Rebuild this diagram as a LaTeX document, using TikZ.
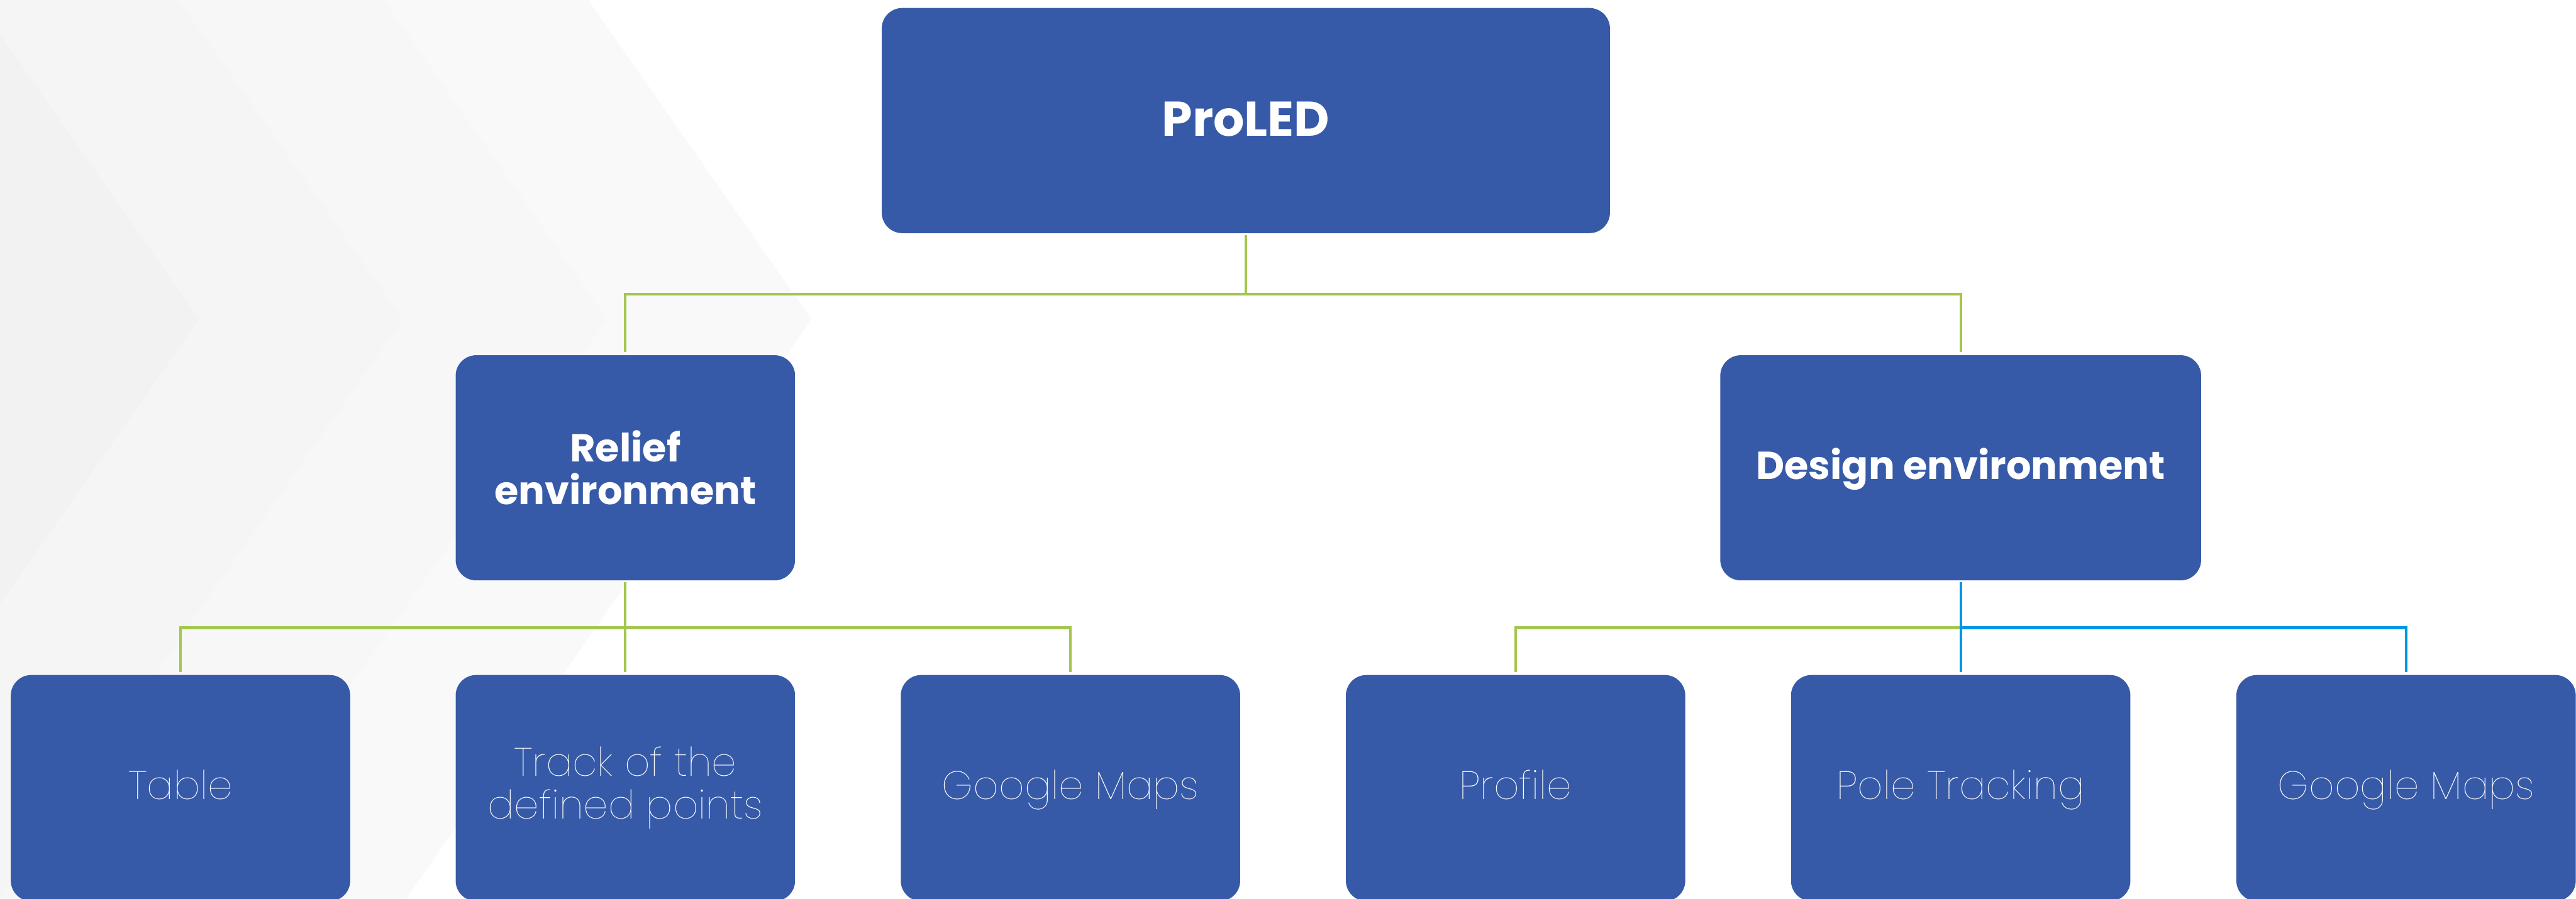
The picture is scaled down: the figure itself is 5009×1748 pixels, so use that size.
\documentclass[tikz,border=0pt]{standalone}
\usepackage{fontspec}
\setmainfont{Poppins}
\newfontfamily\boldfont{Poppins}[UprightFont=*-Bold]
\newfontfamily\thinfont{Poppins}[UprightFont=*-Thin]
\definecolor{boxblue}{HTML}{375AA8}
\definecolor{lgreen}{HTML}{A4C64F}
\definecolor{lblue}{HTML}{0095E6}
\definecolor{bgA}{HTML}{F2F2F2}
\definecolor{bgB}{HTML}{F5F5F5}
\definecolor{bgC}{HTML}{F7F7F7}
\definecolor{bgD}{HTML}{F9F9F9}
\tikzset{
  box/.style={rectangle, rounded corners=8pt, fill=boxblue, draw=none, text=white, align=center, inner sep=0pt},
  topbox/.style={box, minimum width={1416*0.2pt}, minimum height={438*0.2pt}, font=\boldfont\fontsize{19}{22}\selectfont},
  midbox/.style={box, minimum height={438*0.2pt}, font=\boldfont\fontsize{15.2}{16.6}\selectfont},
  leafbox/.style={box, minimum width={660*0.2pt}, minimum height={440*0.2pt}, font=\thinfont\fontsize{15.4}{16.6}\selectfont},
  oneline/.style={text height=8.8pt, text depth=0pt},
  gline/.style={draw=lgreen, line width=1pt},
  bline/.style={draw=lblue, line width=1pt},
}
\begin{document}
\begin{tikzpicture}[x=0.2pt, y=-0.2pt]
\useasboundingbox (0,0) rectangle (5009,1748);
\begin{scope}
\clip (0,0) rectangle (5009,1748);
% background chevrons
\fill[bgD] (0,0) -- (1144,0) -- (1578,621) -- (790,1748) -- (0,1748) -- cycle;
\fill[bgC] (0,0) -- (746,0) -- (1180,621) -- (392,1748) -- (0,1748) -- cycle;
\fill[bgB] (0,0) -- (347,0) -- (783,621) -- (-5,1748) -- (0,1748) -- cycle;
\fill[bgA] (0,67) -- (387,621) -- (0,1175) -- cycle;

% nodes
\node[topbox, text height=12pt, text depth=0pt] (pro) at (2422.5,234.5) {ProLED};
\node[midbox, minimum width={660*0.2pt}] (relief) at (1216,910) {Relief\\environment};
\node[midbox, oneline, minimum width={935*0.2pt}] (design) at (3812.5,910) {Design environment};
\node[leafbox, oneline] (table) at (351,1533) {Table};
\node[leafbox] (track) at (1216,1533) {Track of the\\defined points};
\node[leafbox, oneline] (gm1) at (2081.5,1533) {Google Maps};
\node[leafbox, oneline] (profile) at (2947,1533) {Profile};
\node[leafbox, oneline] (pole) at (3812.5,1533) {Pole Tracking};
\node[leafbox, oneline] (gm2) at (4678.5,1533) {Google Maps};

\coordinate (busA) at (0,572);
\coordinate (busB) at (0,1221);

% connectors level 1
\draw[gline, shorten <=0.5pt, shorten >=1pt] (pro.south) -- (pro.south |- busA) -| (relief.north);
\draw[gline, shorten >=1pt] (pro.south |- busA) -| (design.north);
% relief children
\draw[gline, shorten <=0.5pt, shorten >=1pt] (relief.south) -- (track.north);
\draw[gline, shorten >=1pt] (relief.south |- busB) -| (table.north);
\draw[gline, shorten >=1pt] (relief.south |- busB) -| (gm1.north);
% design children
\draw[gline, shorten >=1pt] (design.south |- busB) -| (profile.north);
\draw[bline, shorten >=1pt] (design.south |- busB) -| (gm2.north);
\draw[bline, shorten <=0.5pt, shorten >=1pt] (design.south) -- (pole.north);
\end{scope}
\end{tikzpicture}
\end{document}
